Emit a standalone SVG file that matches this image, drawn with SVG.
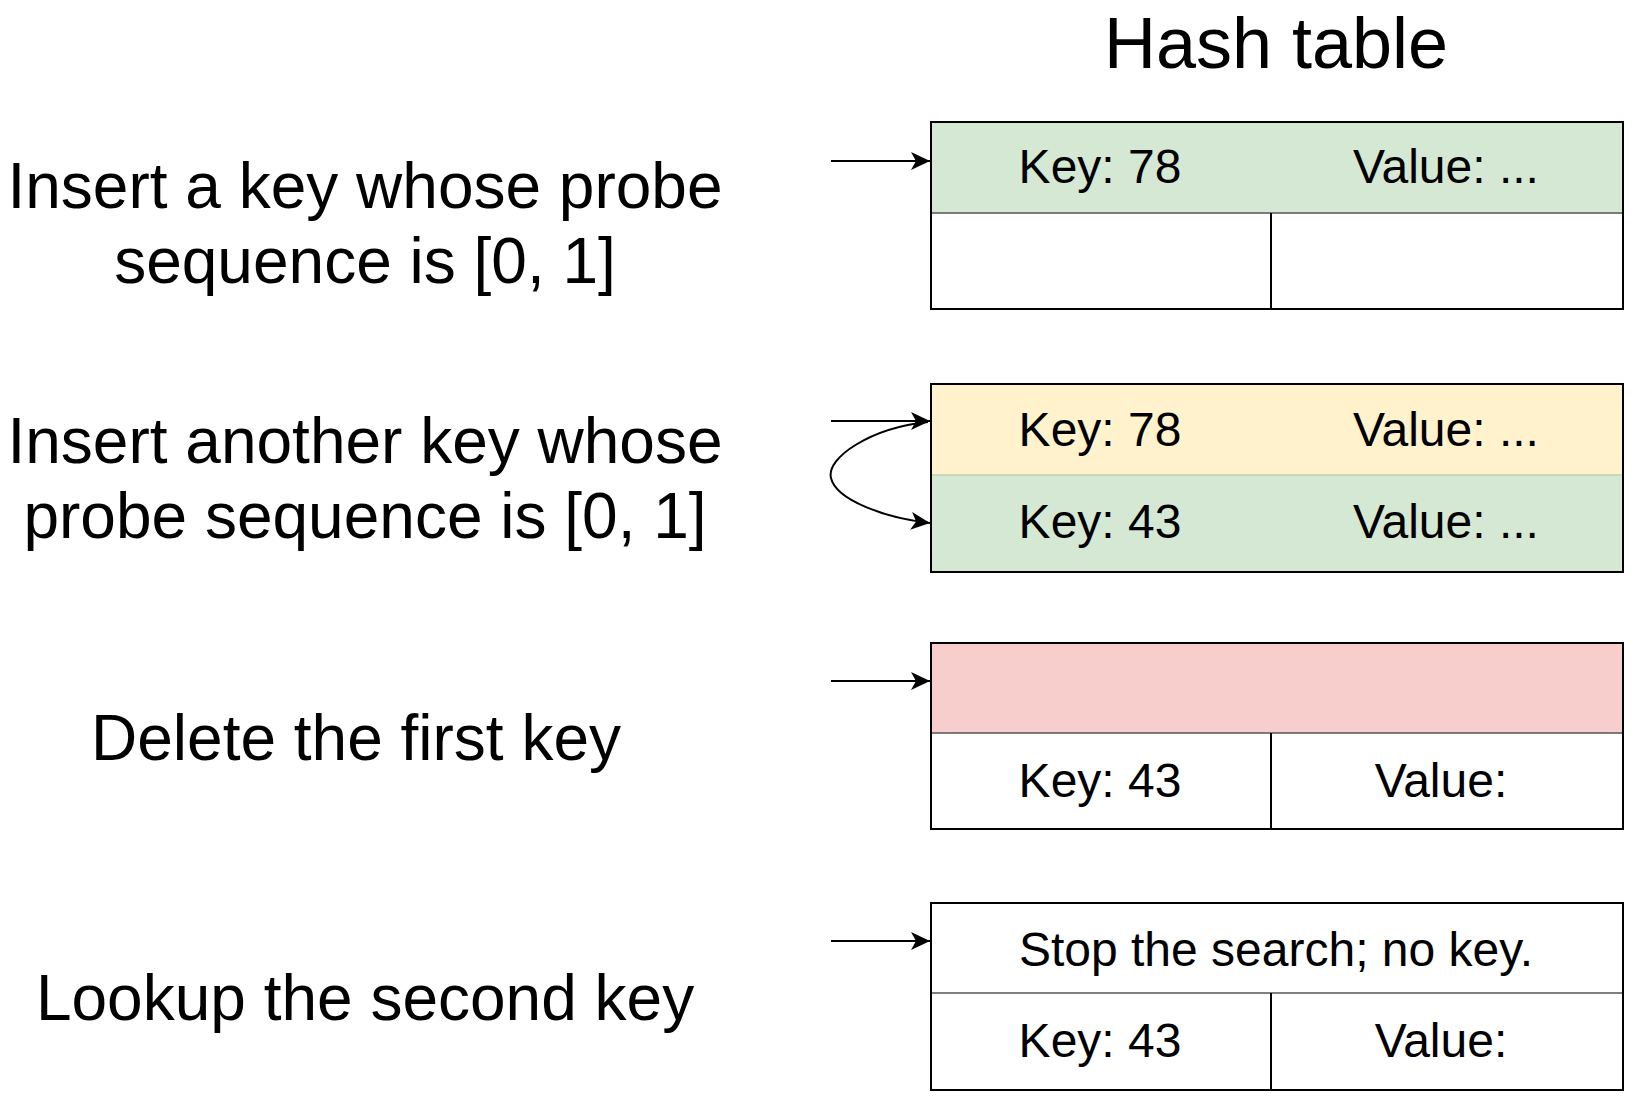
<svg xmlns="http://www.w3.org/2000/svg" width="1640" height="1103" viewBox="0 0 1640 1103">
<defs>
<style>
text{font-family:"Liberation Sans",Arial,Helvetica,sans-serif;fill:#000;text-anchor:middle}
.big{font-size:64px}
.title{font-size:72px}
.cell{font-size:48px}
.frame{fill:none;stroke:#000;stroke-width:2}
.sep{stroke:#000;stroke-width:2}
.rowsep{stroke:#555;stroke-width:1.5}
.conn{fill:none;stroke:#000;stroke-width:2}
</style>
<marker id="arr" viewBox="0 0 20 20" refX="19" refY="10" markerWidth="20" markerHeight="20" markerUnits="userSpaceOnUse" orient="auto">
<path d="M0,1 L19,10 L0,19 L5,10 Z" fill="#000"/>
</marker>
</defs>
<rect width="1640" height="1103" fill="#fff"/>
<g id="title"><text class="title" x="1276" y="68">Hash table</text></g>
<g id="label1"><text class="big" x="365" y="208">Insert a key whose probe</text><text class="big" x="365" y="283">sequence is [0, 1]</text></g>
<g id="label2"><text class="big" x="365" y="463">Insert another key whose</text><text class="big" x="365" y="538">probe sequence is [0, 1]</text></g>
<g id="label3"><text class="big" x="356" y="760">Delete the first key</text></g>
<g id="label4"><text class="big" x="365" y="1020">Lookup the second key</text></g>
<g id="table1">
<rect x="931" y="122" width="692" height="91" fill="#d5e8d4"/>
<line class="rowsep" x1="931" y1="213" x2="1623" y2="213"/>
<line class="sep" x1="1271" y1="213" x2="1271" y2="309"/>
<rect class="frame" x="931" y="122" width="692" height="187"/>
<text class="cell" x="1100" y="183">Key: 78</text>
<text class="cell" x="1446" y="183">Value: ...</text>
</g>
<g id="table2">
<rect x="931" y="384" width="692" height="91" fill="#fff2cc"/>
<rect x="931" y="475" width="692" height="97" fill="#d5e8d4"/>
<line x1="931" y1="475" x2="1623" y2="475" stroke="#b9d3b3" stroke-width="1.5"/>
<rect class="frame" x="931" y="384" width="692" height="188"/>
<text class="cell" x="1100" y="446">Key: 78</text>
<text class="cell" x="1446" y="446">Value: ...</text>
<text class="cell" x="1100" y="538">Key: 43</text>
<text class="cell" x="1446" y="538">Value: ...</text>
</g>
<g id="table3">
<rect x="931" y="643" width="692" height="90" fill="#f8cecc"/>
<line class="rowsep" x1="931" y1="733" x2="1623" y2="733"/>
<line class="sep" x1="1271" y1="733" x2="1271" y2="829"/>
<rect class="frame" x="931" y="643" width="692" height="186"/>
<text class="cell" x="1100" y="797">Key: 43</text>
<text class="cell" x="1441" y="797">Value:</text>
</g>
<g id="table4">
<line class="rowsep" x1="931" y1="993" x2="1623" y2="993"/>
<line class="sep" x1="1271" y1="993" x2="1271" y2="1090"/>
<rect class="frame" x="931" y="903" width="692" height="187"/>
<text class="cell" x="1276" y="966">Stop the search; no key.</text>
<text class="cell" x="1100" y="1057">Key: 43</text>
<text class="cell" x="1441" y="1057">Value:</text>
</g>
<g id="connectors">
<line class="conn" x1="831" y1="161" x2="930" y2="161" marker-end="url(#arr)"/>
<line class="conn" x1="831" y1="421" x2="930" y2="421" marker-end="url(#arr)"/>
<path class="conn" d="M 928 422 C 870 428, 826 458, 831 478 C 836 500, 885 518, 930 523" marker-end="url(#arr)"/>
<line class="conn" x1="831" y1="681" x2="930" y2="681" marker-end="url(#arr)"/>
<line class="conn" x1="831" y1="941" x2="930" y2="941" marker-end="url(#arr)"/>
</g>
</svg>
